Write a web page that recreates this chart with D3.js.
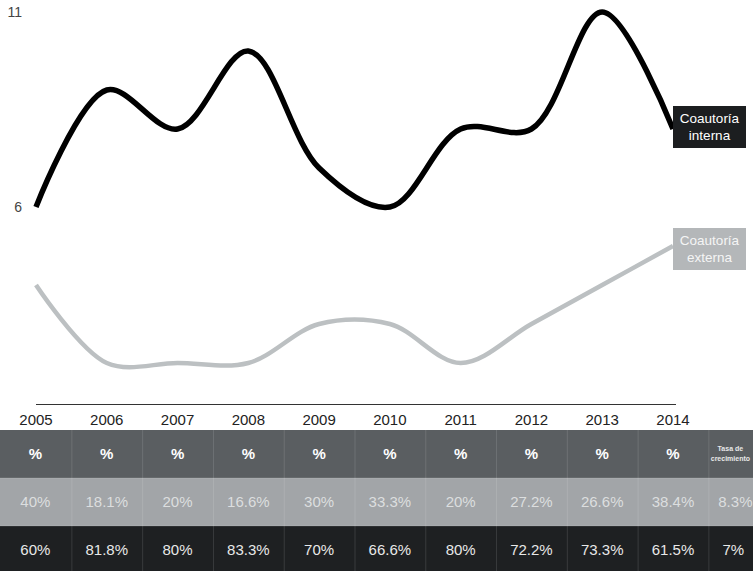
<!DOCTYPE html>
<html><head><meta charset="utf-8">
<script src="https://cdn.jsdelivr.net/npm/d3@7"></script>
<style>body{margin:0;background:#fff;}svg{display:block;font-family:"Liberation Sans",Arial,sans-serif;}</style>
</head><body>
<svg id="c" width="753" height="571"></svg>
<script>
const years = ["2005","2006","2007","2008","2009","2010","2011","2012","2013","2014"];
const interna = [6, 9, 8, 10, 7, 6, 8, 8, 11, 8];
const externa = [4, 2, 2, 2, 3, 3, 2, 3, 4, 5];
const yTicks = [6, 11];
const pctExterna = ["40%","18.1%","20%","16.6%","30%","33.3%","20%","27.2%","26.6%","38.4%"];
const pctInterna = ["60%","81.8%","80%","83.3%","70%","66.6%","80%","72.2%","73.3%","61.5%"];
const tasaLabel = ["Tasa de","crecimiento"];
const tasaExterna = "8.3%";
const tasaInterna = "7%";

const svg = d3.select("#c");
const x = d3.scalePoint().domain(years).range([36, 673]);
const y = d3.scaleLinear().domain([1, 11]).range([402, 12]);

// axis baseline
svg.append("line").attr("x1", 36).attr("x2", 676).attr("y1", 404.5).attr("y2", 404.5)
  .attr("stroke", "#333").attr("stroke-width", 1);

// y tick labels
svg.selectAll(".yt").data(yTicks).join("text")
  .attr("x", 22).attr("y", d => y(d) + 5).attr("text-anchor", "end")
  .attr("font-size", 14).attr("fill", "#444").text(d => d);

// year labels
svg.selectAll(".yr").data(years).join("text")
  .attr("x", d => x(d)).attr("y", 425).attr("text-anchor", "middle")
  .attr("font-size", 15).attr("fill", "#222").text(d => d);

const line = d3.line().x((d, i) => x(years[i])).y(d => y(d)).curve(d3.curveCatmullRom.alpha(0.5));

svg.append("path").attr("d", line(externa)).attr("fill", "none")
  .attr("stroke", "#bcc0c2").attr("stroke-width", 4.5).attr("stroke-linecap", "butt");
svg.append("path").attr("d", line(interna)).attr("fill", "none")
  .attr("stroke", "#000").attr("stroke-width", 5.5).attr("stroke-linecap", "butt");

// series labels
function label(cx, cy, lines, fill, tfill) {
  const g = svg.append("g");
  g.append("rect").attr("x", cx).attr("y", cy).attr("width", 73).attr("height", 42).attr("fill", fill);
  lines.forEach((t, i) => g.append("text").attr("x", cx + 36.5).attr("y", cy + 17 + i * 17)
    .attr("text-anchor", "middle").attr("font-size", 13.5).attr("fill", tfill).text(t));
}
label(673, 106, ["Coautoría", "interna"], "#1c1e20", "#fff");
label(673, 228, ["Coautoría", "externa"], "#b4b7b9", "#f4f5f5");

// table
const step = x.step();
const rowTop = [430, 478, 526];
const rowH = [48, 48, 47];
const rowFill = ["#5a5e61", "#a2a5a8", "#1e2022"];
const colEdges = years.map((d, i) => i === 0 ? 0 : x(d) - step / 2);
const lastEdge = x(years[years.length - 1]) + step / 2;

rowTop.forEach((t, r) => {
  svg.append("rect").attr("x", 0).attr("y", t).attr("width", 753).attr("height", rowH[r]).attr("fill", rowFill[r]);
});
// column separators
const seps = colEdges.slice(1).concat([lastEdge]);
svg.selectAll(".sep").data(seps).join("line")
  .attr("x1", d => d + 0.5).attr("x2", d => d + 0.5).attr("y1", 430).attr("y2", 571)
  .attr("stroke", "#ffffff").attr("stroke-opacity", 0.12).attr("stroke-width", 1);
// row separators
[478, 526].forEach(v => svg.append("line").attr("x1", 0).attr("x2", 753).attr("y1", v).attr("y2", v)
  .attr("stroke", "#ffffff").attr("stroke-opacity", 0.15));

const colCenter = (i) => i === 0 ? step / 2 : x(years[i]);
svg.selectAll(".hd").data(years).join("text")
  .attr("x", (d, i) => colCenter(i)).attr("y", 459).attr("text-anchor", "middle")
  .attr("font-size", 15).attr("font-weight", "bold").attr("fill", "#fff").text("%");
svg.selectAll(".pe").data(pctExterna).join("text")
  .attr("x", (d, i) => colCenter(i)).attr("y", 507).attr("text-anchor", "middle")
  .attr("font-size", 15).attr("fill", "#dcdedf").text(d => d);
svg.selectAll(".pi").data(pctInterna).join("text")
  .attr("x", (d, i) => colCenter(i)).attr("y", 555).attr("text-anchor", "middle")
  .attr("font-size", 15).attr("fill", "#e8e8e8").text(d => d);

const tx = lastEdge + 27;
tasaLabel.forEach((t, i) => svg.append("text").attr("x", lastEdge + 22).attr("y", 451 + i * 10)
  .attr("text-anchor", "middle").attr("font-size", 7).attr("font-weight", "bold").attr("fill", "#e8e8e8").text(t));
svg.append("text").attr("x", tx).attr("y", 507).attr("text-anchor", "middle")
  .attr("font-size", 15).attr("fill", "#dcdedf").text(tasaExterna);
svg.append("text").attr("x", tx - 2).attr("y", 555).attr("text-anchor", "middle")
  .attr("font-size", 15).attr("fill", "#e8e8e8").text(tasaInterna);
</script>
</body></html>
